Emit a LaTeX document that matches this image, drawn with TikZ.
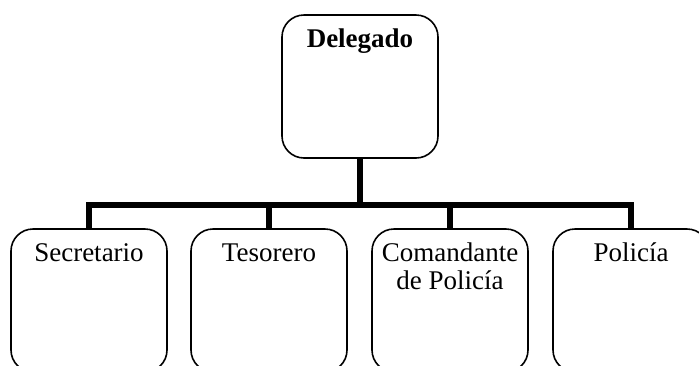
\documentclass[tikz,border=0pt]{standalone}
\usepackage{fontspec}
\setmainfont{Liberation Serif}
\usetikzlibrary{positioning}

\tikzset{
  cargo/.style={draw, line width=1.6pt, rounded corners=22pt, minimum width=156pt, minimum height=143pt, inner sep=0pt},
  rotulo/.style={anchor=north, inner sep=0pt, align=center, font=\fontsize{27}{28}\selectfont},
  linea/.style={line width=5.5pt}
}

\begin{document}
\begin{tikzpicture}[x=1pt,y=-1pt]
\useasboundingbox (0,0) rectangle (699,365);
\clip (0,0) rectangle (699,365);

% cajas
\node[cargo] (dele) at (360,86.5) {};
\node[cargo] (secr) at (89,300.5) {};
\node[cargo] (teso) at (269,300.5) {};
\node[cargo] (coma) at (450,300.5) {};
\node[cargo] (poli) at (631,300.5) {};

% textos
\node[rotulo, below=13.4pt of dele.north] (tdele) {\textbf{Delegado\strut}};
\node[rotulo, below=13.4pt of secr.north] (tsecr) {Secretario\strut};
\node[rotulo, below=13.4pt of teso.north] (tteso) {Tesorero\strut};
\node[rotulo, below=13.4pt of coma.north] (tcoma) {Comandante\strut\\de Policía};
\node[rotulo, below=13.4pt of poli.north] (tpoli) {Policía\strut};

% conexiones
\coordinate (barra) at (360,205);
\foreach \c in {secr,teso,coma,poli}
  \draw[linea] (dele.south) -- (barra) -| (\c.north);
\end{tikzpicture}
\end{document}
